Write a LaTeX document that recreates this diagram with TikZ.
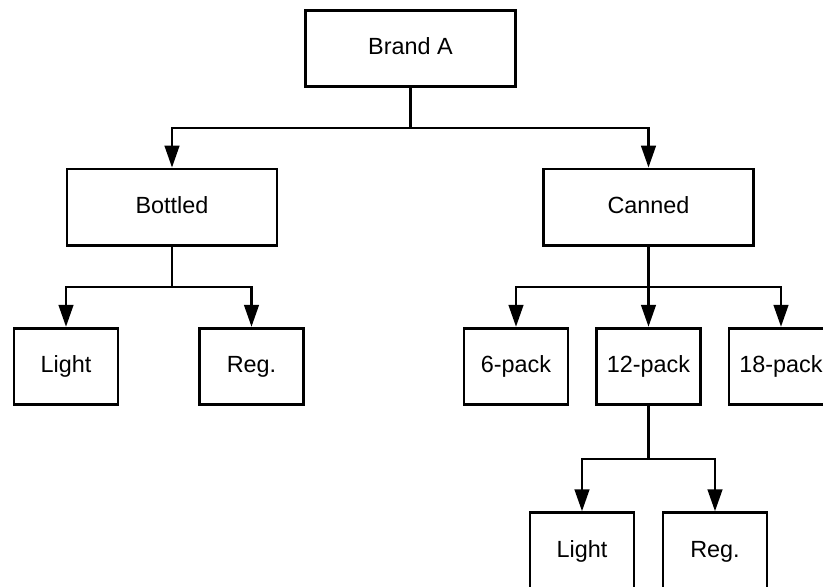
\documentclass[tikz,border=0pt]{standalone}
\usepackage{fontspec}
\setmainfont{Liberation Sans}
\usetikzlibrary{arrows.meta}
\begin{document}
\begin{tikzpicture}[x=1pt,y=-1pt,
  box/.style={draw, line width=2.8pt, minimum height=76.5pt, inner sep=0pt, text height=17pt, text depth=4.4pt, font=\fontsize{23.4}{28}\selectfont},
  bigbox/.style={box, minimum width=210pt},
  smallbox/.style={box, minimum width=104pt},
  conn/.style={line width=2.8pt},
  arr/.style={conn, -{Triangle[length=22pt,width=14.5pt]}}]
\useasboundingbox (0,0) rectangle (823,587);
\clip (0,0) rectangle (823,587);
\node[bigbox] (A) at (410.5,48.5) {Brand A};
\node[bigbox] (B) at (172,207.3) {Bottled};
\node[bigbox] (C) at (648.5,207.3) {Canned};
\node[smallbox] (BL) at (66,366.5) {Light};
\node[smallbox] (BR) at (251.5,366.5) {Reg.};
\node[smallbox] (P6) at (516,366.5) {6-pack};
\node[smallbox] (P12) at (648.5,366.5) {12-pack};
\node[smallbox] (P18) at (781,366.5) {18-pack};
\node[smallbox] (CL) at (582,551) {Light};
\node[smallbox] (CR) at (715,551) {Reg.};
\coordinate (jA) at (410.5,128);
\coordinate (jB) at (172,287);
\coordinate (jC) at (648.5,287);
\coordinate (jP) at (648.5,459);
% Brand A
\draw[conn] (A.south) -- (jA);
\draw[arr] (jA) -| (B.north);
\draw[arr] (jA) -| (C.north);
% Bottled
\draw[conn] (B.south) -- (jB);
\draw[arr] (jB) -| (BL.north);
\draw[arr] (jB) -| (BR.north);
% Canned
\draw[conn] (C.south) -- (jC);
\draw[arr] (jC) -| (P6.north);
\draw[arr] (jC) -- (P12.north);
\draw[arr] (jC) -| (P18.north);
% 12-pack
\draw[conn] (P12.south) -- (jP);
\draw[arr] (jP) -| (CL.north);
\draw[arr] (jP) -| (CR.north);
\end{tikzpicture}
\end{document}
